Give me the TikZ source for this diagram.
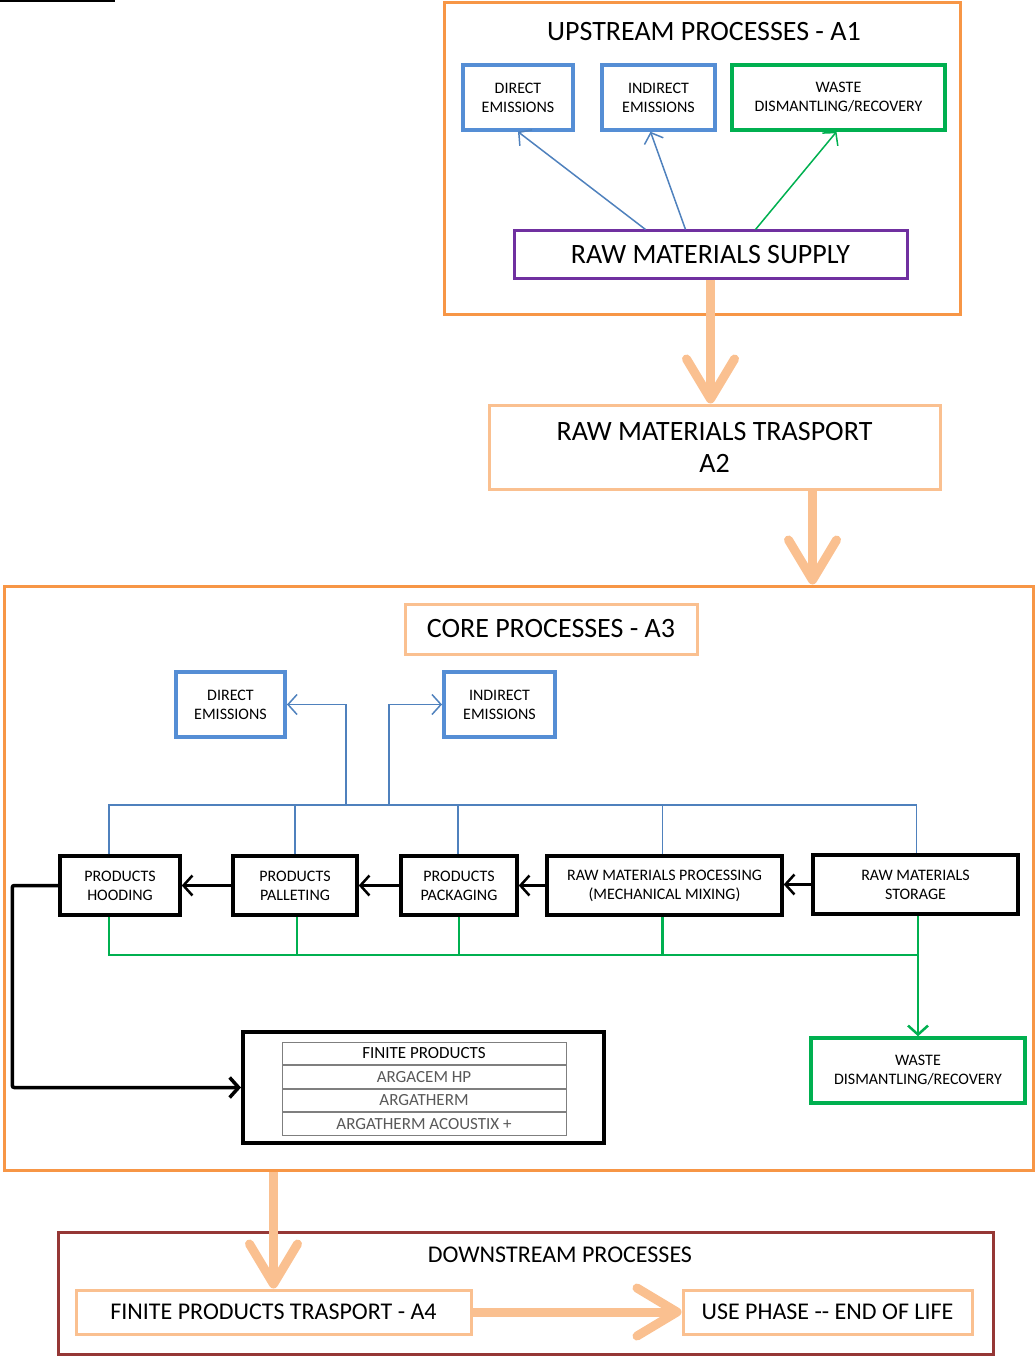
\documentclass[tikz,border=0pt]{standalone}
\usepackage{fontspec}
\setmainfont{Carlito}
\usetikzlibrary{arrows.meta, positioning, calc}
\definecolor{frame_orange}{RGB}{247, 150, 70}
\definecolor{pale_orange}{RGB}{250, 192, 144}
\definecolor{em_blue}{RGB}{85, 142, 213}
\definecolor{line_blue}{RGB}{79, 129, 189}
\definecolor{waste_green}{RGB}{0, 176, 80}
\definecolor{supply_purple}{RGB}{112, 48, 160}
\definecolor{down_red}{RGB}{149, 55, 53}
\definecolor{table_grey}{RGB}{127, 127, 127}
\definecolor{light_text}{RGB}{89, 89, 89}

\begin{document}
\begin{tikzpicture}[
    x=1pt, y=-1pt,
    frame/.style={
        rectangle,
        draw=#1,
        line width=3pt,
        inner sep=0pt
    },
    stage/.style={
        rectangle,
        draw=#1,
        fill=white,
        line width=3pt,
        align=center,
        inner sep=0pt,
        font=\fontsize{28}{32}\selectfont
    },
    small/.style={
        rectangle,
        draw=#1,
        fill=white,
        line width=3.5pt,
        align=center,
        inner sep=0pt,
        font=\fontsize{16}{19}\selectfont
    },
    cell/.style={
        rectangle,
        draw=table_grey,
        line width=1pt,
        minimum width=284pt,
        minimum height=22.5pt,
        inner sep=0pt,
        text=#1,
        font=\fontsize{17}{20}\selectfont
    },
    heading/.style={
        font=\fontsize{#1}{#1}\selectfont
    },
    wire/.style={
        line width=1.5pt,
        draw=#1
    },
    arrow/.style={
        -{Straight Barb[length=9pt, width=20pt]},
        line width=1.5pt,
        draw=#1
    },
    flow/.style={
        -{Straight Barb[length=9pt, width=20pt]},
        line width=#1
    },
    bigarrow/.style={
        -{Straight Barb[length=40pt, width=48pt, round]},
        line width=9pt,
        draw=pale_orange
    }
]
\useasboundingbox (0,0) rectangle (1035,1356);

% stray rule at top left
\draw[line width=1.5pt] (0,1) -- (115,1);

% Outer frames
\node[frame=frame_orange, minimum width=516pt, minimum height=311pt] (up) at (702,158.5) {};
\node[frame=frame_orange, minimum width=1029pt, minimum height=584pt] (core) at (518.5,878) {};
\node[frame=down_red, minimum width=935pt, minimum height=122pt] (down) at (525.5,1293) {};

% Upstream processes - A1
\node[heading=28] (uptitle) at (704,32) {UPSTREAM PROCESSES - A1};
\node[small=em_blue, minimum width=110pt, minimum height=65pt] (dir1) at (518,97.5) {DIRECT\\EMISSIONS};
\node[small=em_blue, minimum width=113pt, minimum height=65pt] (ind1) at (658.5,97.5) {INDIRECT\\EMISSIONS};
\node[small=waste_green, minimum width=213pt, minimum height=65pt] (waste1) at (838.5,97.5) {WASTE\\DISMANTLING/RECOVERY};
\node[stage=supply_purple, minimum width=393pt, minimum height=47pt] (supply) at (710.5,254.5) {RAW MATERIALS SUPPLY};

% Transport - A2
\node[stage=pale_orange, minimum width=451pt, minimum height=84pt] (trans) at (714.5,447) {RAW MATERIALS TRASPORT\\A2};

% Core processes - A3
\node[stage=pale_orange, minimum width=292pt, minimum height=50pt] (coretitle) at (551,629) {CORE PROCESSES - A3};
\node[small=em_blue, line width=4pt, minimum width=109pt, minimum height=65pt] (dir3) at (230.5,704.5) {DIRECT\\EMISSIONS};
\node[small=em_blue, line width=4pt, minimum width=111pt, minimum height=65pt] (ind3) at (499.5,704.5) {INDIRECT\\EMISSIONS};

\node[small=black, minimum width=120pt, minimum height=59pt] (hooding) at (120,885.5) {PRODUCTS\\HOODING};
\node[small=black, minimum width=124pt, minimum height=59pt] (palleting) at (295,885.5) {PRODUCTS\\PALLETING};
\node[small=black, minimum width=116pt, minimum height=59pt] (packaging) at (459,885.5) {PRODUCTS\\PACKAGING};
\node[small=black, minimum width=235pt, minimum height=59pt] (processing) at (664.5,885.5) {RAW MATERIALS PROCESSING\\(MECHANICAL MIXING)};
\node[small=black, minimum width=205pt, minimum height=59pt] (storage) at (915.5,884.5) {RAW MATERIALS\\STORAGE};

\node[small=waste_green, minimum width=214pt, minimum height=65pt] (waste3) at (918,1070.5) {WASTE\\DISMANTLING/RECOVERY};

% Finite products table
\node[small=black, line width=4pt, minimum width=361pt, minimum height=111pt] (finite) at (423.5,1087.5) {};
\node[cell=black] (fp0) at (424,1053.5) {FINITE PRODUCTS};
\node[cell=light_text, below=0pt of fp0] (fp1) {ARGACEM HP};
\node[cell=light_text, below=0pt of fp1] (fp2) {ARGATHERM};
\node[cell=light_text, below=0pt of fp2] (fp3) {ARGATHERM ACOUSTIX +};

% Downstream processes
\node[heading=24] (downtitle) at (560,1255) {DOWNSTREAM PROCESSES};
\node[stage=pale_orange, font=\fontsize{24}{28}\selectfont, minimum width=395pt, minimum height=44pt] (a4) at (273.5,1312) {FINITE PRODUCTS TRASPORT - A4};
\node[stage=pale_orange, font=\fontsize{24}{28}\selectfont, minimum width=289pt, minimum height=44pt] (use) at (827.5,1312) {USE PHASE -{}- END OF LIFE};

% Upstream arrows
\draw[arrow=line_blue] ([xshift=-65]supply.north) -- (dir1.south);
\draw[arrow=line_blue] ([xshift=-25]supply.north) -- ([xshift=-8]ind1.south);
\draw[arrow=waste_green] ([xshift=45]supply.north) -- ([xshift=-2]waste1.south);

% Stage arrows
\draw[bigarrow] (supply.south) -- (supply.south |- trans.north);
\draw[bigarrow] ([xshift=98]trans.south) -- ([xshift=98]trans.south |- core.north);
\draw[bigarrow] (a4.north |- core.south) -- (a4.north);
\draw[bigarrow] (a4.east) -- (use.west);

% Emission bus
\coordinate (bus) at (0,805);
\coordinate (tapd) at (346,805);
\coordinate (tapi) at (389,805);
\draw[wire=line_blue] ([xshift=-11]hooding.north) |- ([xshift=1]storage.north |- bus) -- ([xshift=1]storage.north);
\draw[wire=line_blue] (palleting.north) -- (palleting.north |- bus);
\draw[wire=line_blue] ([xshift=-1]packaging.north) -- ([xshift=-1]packaging.north |- bus);
\draw[wire=line_blue] ([xshift=-2]processing.north) -- ([xshift=-2]processing.north |- bus);
\draw[arrow=line_blue] (tapd) |- (dir3.east);
\draw[arrow=line_blue] (tapi) |- (ind3.west);

% Waste bus
\coordinate (gbus) at (0,955);
\draw[wire=waste_green, line width=2.5pt] ([xshift=-11]hooding.south) |- (waste3.north |- gbus);
\draw[wire=waste_green, line width=2.5pt] ([xshift=2]palleting.south) -- ([xshift=2]palleting.south |- gbus);
\draw[wire=waste_green, line width=2.5pt] (packaging.south) -- (packaging.south |- gbus);
\draw[wire=waste_green, line width=2.5pt] ([xshift=-2]processing.south) -- ([xshift=-2]processing.south |- gbus);
\draw[arrow=waste_green, line width=2.5pt] (waste3.north |- storage.south) -- (waste3.north);

% Process flow
\draw[flow=2.5pt] (storage.west) -- (storage.west -| processing.east);
\draw[flow=2.5pt] (processing.west) -- (packaging.east);
\draw[flow=2.5pt] (packaging.west) -- (palleting.east);
\draw[flow=2.5pt] (palleting.west) -- (hooding.east);
\draw[flow=3.5pt, rounded corners=2pt] (hooding.west) -- ++(-46,0) |- (finite.west);

\end{tikzpicture}
\end{document}
